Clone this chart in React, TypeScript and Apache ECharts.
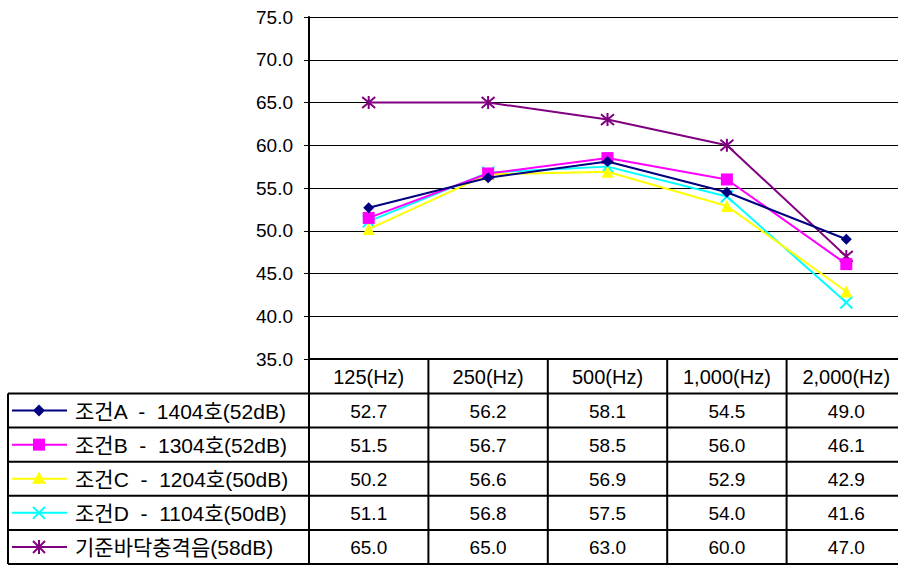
import React, { useEffect, useRef } from "react";
import * as echarts from "echarts";

const categories = ["125(Hz)", "250(Hz)", "500(Hz)", "1,000(Hz)", "2,000(Hz)"];
const seriesNames = [
  "조건A  -  1404호(52dB)",
  "조건B  -  1304호(52dB)",
  "조건C  -  1204호(50dB)",
  "조건D  -  1104호(50dB)",
  "기준바닥충격음(58dB)",
];
const valuesA = [52.7, 56.2, 58.1, 54.5, 49.0];
const valuesB = [51.5, 56.7, 58.5, 56.0, 46.1];
const valuesC = [50.2, 56.6, 56.9, 52.9, 42.9];
const valuesD = [51.1, 56.8, 57.5, 54.0, 41.6];
const valuesStd = [65.0, 65.0, 63.0, 60.0, 47.0];
const allValues = [valuesA, valuesB, valuesC, valuesD, valuesStd];
const colors = ["#000080", "#FF00FF", "#FFFF00", "#00FFFF", "#800080"];
const symbols = [
  "diamond",
  "rect",
  "triangle",
  "path://M0,0L10,10M10,0L0,10",
  "path://M0,0L10,10M10,0L0,10M5,-1L5,11",
];
const symbolSizes = [11, 12, 12, 12, 13];
const stroked = [false, false, false, true, true];

const FONT = "'Liberation Sans', 'Noto Sans CJK KR', sans-serif";

export default function App() {
  const ref = useRef<HTMLDivElement>(null);
  useEffect(() => {
    document.body.style.margin = "0";
    const chart = echarts.init(ref.current!, null, { renderer: "svg" });
    const option: any = {
      animation: false,
      backgroundColor: "#fff",
      grid: { left: 309, top: 17, width: 597, height: 342 },
      xAxis: {
        type: "category",
        data: categories,
        boundaryGap: true,
        axisLine: { show: true, lineStyle: { color: "#000", width: 2 } },
        axisTick: { show: false },
        axisLabel: { show: false },
        splitLine: { show: false },
      },
      yAxis: {
        type: "value",
        min: 35,
        max: 75,
        interval: 5,
        axisLine: { show: true, lineStyle: { color: "#000", width: 2 } },
        axisTick: { show: true, length: 5, lineStyle: { color: "#000" } },
        axisLabel: {
          formatter: (v: number) => v.toFixed(1),
          color: "#000",
          fontSize: 19,
          fontFamily: FONT,
          margin: 16,
        },
        splitLine: { show: true, lineStyle: { color: "#000", width: 1 } },
      },
      series: allValues.map((vals, i) => ({
        name: seriesNames[i],
        type: "line",
        data: vals,
        symbol: symbols[i],
        symbolSize: symbolSizes[i],
        lineStyle: { color: colors[i], width: 2 },
        itemStyle: stroked[i]
          ? { color: "none", borderColor: colors[i], borderWidth: 2 }
          : { color: colors[i], borderWidth: 0 },
        z: 10 - i,
      })),
    };
    chart.setOption(option);

    const xs = categories.map((_, i) => chart.convertToPixel({ xAxisIndex: 0 }, i) as number);
    const band = xs[1] - xs[0];
    const tableTop = chart.convertToPixel({ yAxisIndex: 0 }, 35) as number;
    const headerBottom = tableTop + 34.5;
    const bottom = 564;
    const rowH = (bottom - headerBottom) / 5;
    const leftX = 8;
    const axisX = xs[0] - band / 2;
    const rightX = 906;
    const lineStyle = { stroke: "#000", lineWidth: 2 };
    const els: any[] = [];
    els.push({ type: "line", shape: { x1: axisX, y1: tableTop, x2: rightX, y2: tableTop }, style: lineStyle });
    for (let r = 0; r <= 5; r++) {
      const y = headerBottom + r * rowH;
      els.push({ type: "line", shape: { x1: leftX, y1: y, x2: rightX, y2: y }, style: lineStyle });
    }
    els.push({ type: "line", shape: { x1: leftX, y1: headerBottom, x2: leftX, y2: bottom }, style: lineStyle });
    for (let c = 0; c <= categories.length; c++) {
      const x = axisX + c * band;
      els.push({ type: "line", shape: { x1: x, y1: tableTop, x2: x, y2: bottom }, style: lineStyle });
    }
    categories.forEach((cat, i) => {
      els.push({
        type: "text",
        x: xs[i],
        y: (tableTop + headerBottom) / 2 + 1,
        style: { text: cat, fill: "#000", font: `20px ${FONT}`, align: "center", verticalAlign: "middle" },
      });
    });
    allValues.forEach((vals, r) => {
      const cy = headerBottom + r * rowH + rowH / 2;
      const col = colors[r];
      els.push({ type: "line", shape: { x1: 12, y1: cy, x2: 67, y2: cy }, style: { stroke: col, lineWidth: 2 } });
      const sx = 39;
      if (r === 0) {
        els.push({ type: "polygon", shape: { points: [[sx, cy - 6], [sx + 6, cy], [sx, cy + 6], [sx - 6, cy]] }, style: { fill: col } });
      } else if (r === 1) {
        els.push({ type: "rect", shape: { x: sx - 6, y: cy - 6, width: 12, height: 12 }, style: { fill: col } });
      } else if (r === 2) {
        els.push({ type: "polygon", shape: { points: [[sx, cy - 7], [sx + 7, cy + 5], [sx - 7, cy + 5]] }, style: { fill: col } });
      } else if (r === 3) {
        els.push({ type: "line", shape: { x1: sx - 6, y1: cy - 6, x2: sx + 6, y2: cy + 6 }, style: { stroke: col, lineWidth: 2 } });
        els.push({ type: "line", shape: { x1: sx + 6, y1: cy - 6, x2: sx - 6, y2: cy + 6 }, style: { stroke: col, lineWidth: 2 } });
      } else {
        els.push({ type: "line", shape: { x1: sx - 6, y1: cy - 6, x2: sx + 6, y2: cy + 6 }, style: { stroke: col, lineWidth: 2 } });
        els.push({ type: "line", shape: { x1: sx + 6, y1: cy - 6, x2: sx - 6, y2: cy + 6 }, style: { stroke: col, lineWidth: 2 } });
        els.push({ type: "line", shape: { x1: sx, y1: cy - 7, x2: sx, y2: cy + 7 }, style: { stroke: col, lineWidth: 2 } });
      }
      els.push({
        type: "text",
        x: 75,
        y: cy + 1,
        style: { text: seriesNames[r], fill: "#000", font: `21px ${FONT}`, align: "left", verticalAlign: "middle" },
      });
      vals.forEach((v, i) => {
        els.push({
          type: "text",
          x: xs[i],
          y: cy + 1,
          style: { text: v.toFixed(1), fill: "#000", font: `19px ${FONT}`, align: "center", verticalAlign: "middle" },
        });
      });
    });
    chart.setOption({ graphic: { elements: els } });
    return () => chart.dispose();
  }, []);
  return (
    <div
      ref={ref}
      style={{ position: "fixed", left: 0, top: 0, width: 906, height: 565, background: "#fff" }}
    />
  );
}
